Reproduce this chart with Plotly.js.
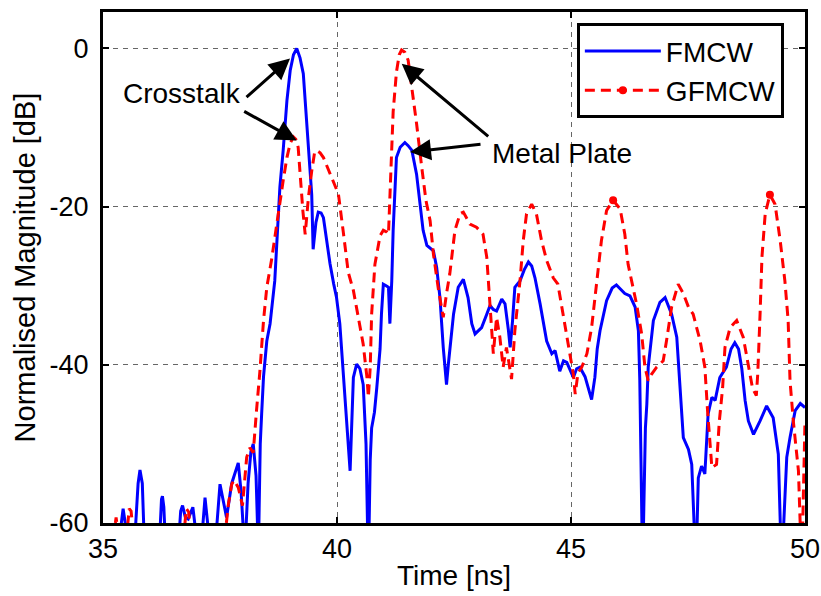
<!DOCTYPE html>
<html>
<head>
<meta charset="utf-8">
<script src="https://cdn.plot.ly/plotly-3.0.1.min.js"></script>
<style>html,body{margin:0;padding:0;background:#fff;}#chart{width:821px;height:596px;}</style>
</head>
<body>
<div id="chart"></div>
<script>
// FMCW (blue, solid) — time [ns], normalised magnitude [dB]
const fmcwT = [35.35,35.43,35.50,35.68,35.75,35.79,35.84,35.88,36.21,36.25,36.27,36.30,36.33,36.62,36.66,36.70,36.76,36.82,36.92,37.00,
  37.11,37.18,37.27,37.41,37.50,37.57,37.64,37.75,37.89,37.95,38.03,38.10,38.16,38.21,38.27,38.32,38.36,38.39,38.43,38.50,
  38.57,38.67,38.75,38.78,38.85,38.93,39.00,39.07,39.14,39.21,39.28,39.35,39.42,39.46,39.49,39.55,39.60,39.66,39.71,39.78,
  39.85,39.93,39.99,40.06,40.13,40.20,40.28,40.35,40.42,40.49,40.56,40.62,40.67,40.71,40.74,40.77,40.80,40.85,40.92,40.95,
  40.99,41.05,41.10,41.13,41.17,41.20,41.24,41.27,41.35,41.45,41.52,41.60,41.70,41.77,41.84,41.92,42.06,42.13,42.20,42.27,
  42.34,42.38,42.49,42.59,42.70,42.80,42.88,42.95,43.09,43.20,43.27,43.34,43.41,43.52,43.59,43.66,43.70,43.75,43.80,43.91,
  44.00,44.09,44.16,44.23,44.34,44.48,44.59,44.66,44.76,44.84,44.91,45.05,45.12,45.19,45.30,45.44,45.51,45.56,45.62,45.76,
  45.88,45.97,46.06,46.15,46.26,46.37,46.44,46.47,46.53,46.59,46.62,46.65,46.76,46.90,47.01,47.15,47.26,47.32,47.40,47.51,
  47.58,47.67,47.72,47.79,47.86,47.93,48.01,48.08,48.18,48.32,48.42,48.50,48.58,48.65,48.72,48.79,48.90,49.04,49.18,49.32,
  49.43,49.50,49.61,49.68,49.79,49.90,50.00];
const fmcwDb = [-62,-58.2,-61,-62,-55,-53.3,-55,-62,-62,-57,-56.6,-58,-62,-62,-58.5,-57.8,-59.3,-59.5,-58,-62,
  -62,-56.8,-62,-62,-55.1,-57,-59.3,-55,-52.4,-56,-64,-55,-51,-50,-54,-64,-50,-46.2,-41.5,-37,
  -34.8,-29.4,-20.9,-17.5,-12.9,-6.6,-2.8,-0.8,0,-1.2,-3.2,-8.7,-14.2,-18.5,-25.4,-22,-20.7,-20.8,-21.4,-24.5,
  -27.2,-29.8,-31.5,-34.8,-40.5,-46,-53.4,-41.6,-39.9,-40.5,-42.5,-50,-66,-52,-48,-47,-46,-42.9,-38,-33.6,
  -29.8,-30,-30.2,-34.8,-29.4,-23,-17.6,-13.8,-12.5,-11.9,-12.3,-12.9,-15.9,-19.2,-23,-24.9,-25.6,-27.7,-31.5,-37.8,
  -42.5,-39.9,-33.6,-30.2,-29.2,-31.5,-34.8,-36.1,-35.3,-33.6,-32.5,-33,-33.2,-31.7,-32.3,-35.5,-37.8,-34.5,-30.2,-29.4,
  -28,-27,-27.5,-29,-32.3,-37,-38.6,-38.2,-40.8,-39.5,-39.7,-41.6,-40.5,-40.3,-41.5,-44.4,-41.6,-38,-35.7,-31.9,
  -30.3,-29.9,-30.5,-31,-31.3,-32.7,-35.7,-42,-66,-48,-45,-40.3,-34.4,-32.1,-31.5,-33.6,-36.5,-42,-49.2,-50.7,
  -52.6,-66,-54.3,-52.8,-53.8,-46.2,-44.1,-44.5,-41.6,-40.3,-38,-37.2,-38,-40.5,-44.5,-47.1,-48.8,-47.1,-45.2,-46.7,
  -51.3,-66,-51.7,-49.2,-45.8,-44.9,-45.4];

// GFMCW (red, dashed)
const gfmcwT = [35.22,35.28,35.34,35.50,35.56,35.60,35.66,36.72,36.78,36.83,36.88,37.60,37.68,37.75,37.80,37.89,37.98,38.07,38.14,38.21,
  38.28,38.35,38.43,38.50,38.60,38.68,38.75,38.85,38.93,39.00,39.07,39.12,39.17,39.22,39.27,39.32,39.39,39.46,39.52,39.56,
  39.64,39.71,39.85,40.03,40.13,40.24,40.35,40.46,40.56,40.64,40.67,40.71,40.74,40.81,40.92,40.99,41.06,41.10,41.13,41.20,
  41.27,41.33,41.38,41.45,41.52,41.59,41.70,41.81,41.90,41.99,42.06,42.17,42.27,42.34,42.41,42.52,42.63,42.70,42.77,42.84,
  42.98,43.12,43.20,43.26,43.31,43.34,43.41,43.48,43.55,43.62,43.73,43.80,43.91,43.98,44.05,44.16,44.26,44.37,44.48,44.62,
  44.72,44.83,44.94,45.05,45.09,45.15,45.23,45.34,45.44,45.55,45.65,45.76,45.90,46.05,46.15,46.22,46.30,46.40,46.51,46.58,
  46.65,46.72,46.83,46.97,47.04,47.15,47.29,47.40,47.51,47.61,47.76,47.86,47.92,48.01,48.11,48.17,48.24,48.29,48.40,48.54,
  48.68,48.79,48.88,48.96,48.99,49.04,49.08,49.15,49.25,49.36,49.47,49.57,49.64,49.68,49.75,49.86,49.93,50.00];
const gfmcwDb = [-62,-59.3,-62,-62,-58.2,-58.5,-62,-62,-58.2,-58.6,-62,-62,-57.6,-55.1,-54.6,-55.5,-57.8,-51.7,-50.5,-51.1,
  -45.8,-41,-34.4,-30.2,-26.8,-23.5,-20.5,-16.7,-13.8,-12,-11.2,-11.5,-12.5,-17.1,-20.5,-23.5,-18.8,-15.5,-13.2,-12.9,
  -13.2,-13.8,-15.9,-18.4,-23,-28.3,-30.6,-34.4,-37.4,-41.6,-44.1,-40.3,-33.6,-27.3,-23.7,-23,-23.2,-23.5,-19,-8,
  -3,-0.8,-0.2,-0.5,-1.5,-4.5,-9.5,-15,-19.2,-21.8,-26,-30.6,-34,-31,-28.5,-23,-20.9,-20.7,-21.5,-22.2,
  -22.6,-23.5,-26.4,-31.5,-37,-38.6,-34,-36.5,-40.3,-37.8,-41.8,-35.7,-29.4,-24.3,-20.9,-19.7,-20.9,-24.3,-26.8,-29,
  -29.8,-33.6,-37.4,-41.2,-43.7,-41,-40.3,-38.6,-35.3,-29.4,-24.3,-20.5,-19.2,-20.3,-23.5,-27.3,-29.4,-32.3,-36.1,-40.3,
  -42,-41.2,-40.3,-39.5,-37,-32.7,-29.8,-31,-32.7,-33.6,-37,-40.3,-46,-53,-52.6,-47.1,-42.9,-37.8,-35.3,-34.4,
  -36.5,-40.3,-43,-43.9,-41.2,-33.6,-26.4,-20.9,-18.5,-19.7,-24.3,-29.4,-34.4,-42,-47.1,-53.4,-66,-47.1];
// sample times at which the GFMCW dot markers are visible
const gfmcwMarkT = [45.90, 49.25];

const xTicks = [35, 40, 45, 50];
const yTicks = [-60, -40, -20, 0];

const FONT = 'Liberation Sans, Arial, Helvetica, sans-serif';
const FS = 28;
const TFS = 27;

const markerColors = gfmcwT.map((t, i) => (i === 0 || gfmcwMarkT.includes(t)) ? '#ff0000' : 'rgba(0,0,0,0)');

const traces = [
  {x: fmcwT, y: fmcwDb, name: 'FMCW', type: 'scatter', mode: 'lines',
   line: {color: '#0000ff', width: 3}},
  {x: gfmcwT, y: gfmcwDb, name: 'GFMCW', type: 'scatter', mode: 'lines+markers',
   line: {color: '#ff0000', width: 3, dash: '10px,6px'},
   marker: {color: markerColors, size: 8, line: {width: 0}}}
];

const ann = (x, y, ax, ay) => ({x, y, ax, ay, xref: 'x', yref: 'y', axref: 'pixel', ayref: 'pixel',
  text: '', showarrow: true, arrowhead: 2, arrowsize: 1.4, arrowwidth: 3, arrowcolor: '#000'});

const layout = {
  width: 821, height: 596,
  margin: {l: 103, r: 16, t: 12, b: 73},
  paper_bgcolor: '#fff', plot_bgcolor: '#fff',
  font: {family: FONT, size: FS, color: '#000'},
  showlegend: true,
  legend: {x: 0.675, y: 0.978, xanchor: 'left', yanchor: 'top',
    bordercolor: '#000', borderwidth: 3, bgcolor: '#fff',
    font: {family: FONT, size: FS, color: '#000'}, itemwidth: 76, tracegroupgap: 0},
  xaxis: {range: [35, 50], tickvals: xTicks, ticktext: xTicks.map(String),
    ticks: 'inside', ticklen: 6, tickwidth: 2, tickcolor: '#000',
    showline: true, linewidth: 3, linecolor: '#000', mirror: 'ticks',
    showgrid: true, gridcolor: '#666', gridwidth: 1, griddash: '5px,5px', zeroline: false,
    tickfont: {family: FONT, size: TFS, color: '#000'},
    title: {text: 'Time [ns]', font: {family: FONT, size: FS, color: '#000'}, standoff: 2}},
  yaxis: {range: [-60, 4.6], tickvals: yTicks, ticktext: yTicks.map(String),
    ticks: 'inside', ticklen: 6, tickwidth: 2, tickcolor: '#000',
    showline: true, linewidth: 3, linecolor: '#000', mirror: 'ticks',
    showgrid: true, gridcolor: '#666', gridwidth: 1, griddash: '5px,5px', zeroline: false,
    tickfont: {family: FONT, size: TFS, color: '#000'}, ticklabelstandoff: 6,
    title: {text: 'Normalised Magnitude [dB]', font: {family: FONT, size: 29, color: '#000'}, standoff: 6}},
  annotations: [
    {x: 36.69, y: -5.7, xref: 'x', yref: 'y', text: 'Crosstalk', showarrow: false,
     font: {family: FONT, size: FS, color: '#000'}},
    {x: 44.81, y: -13.3, xref: 'x', yref: 'y', text: 'Metal Plate', showarrow: false,
     font: {family: FONT, size: FS, color: '#000'}},
    ann(38.996, -1.27, -45, 40),
    ann(39.139, -11.65, -54, -30),
    ann(41.383, -1.94, 88, 74),
    ann(41.56, -13.1, 72, -8)
  ]
};

Plotly.newPlot('chart', traces, layout, {displayModeBar: false, staticPlot: true});
</script>
</body>
</html>
